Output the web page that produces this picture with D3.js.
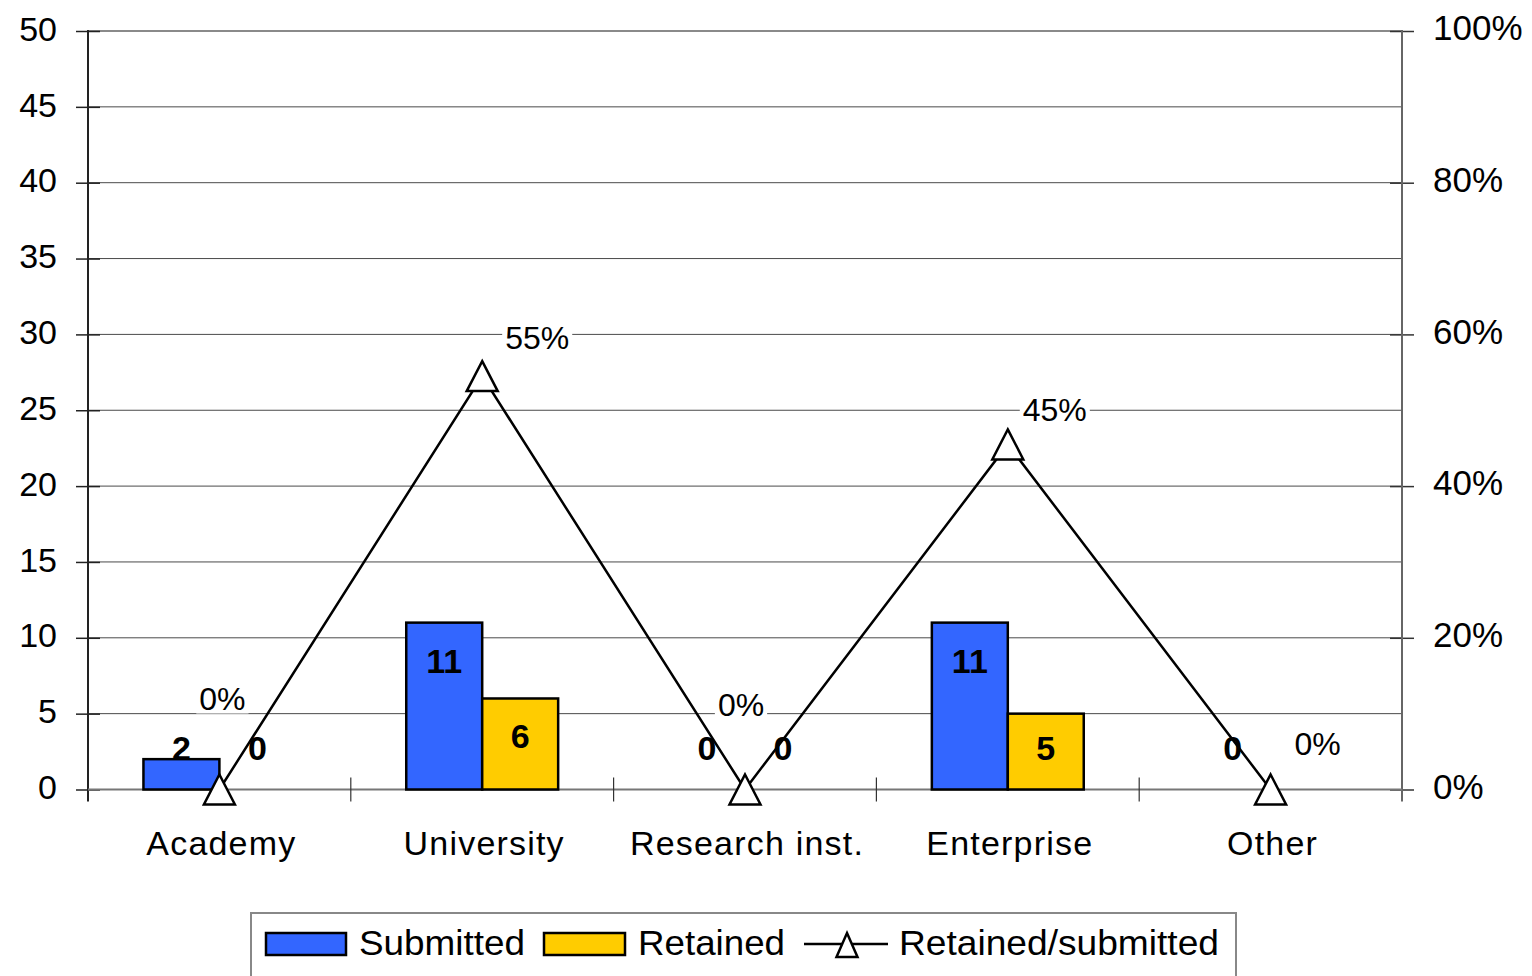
<!DOCTYPE html>
<html>
<head>
<meta charset="utf-8">
<script src="https://cdn.jsdelivr.net/npm/d3@7/dist/d3.min.js"></script>
<style>
  html, body { margin: 0; padding: 0; background: #fff; }
  svg { display: block; font-family: "Liberation Sans", Arial, sans-serif; }
</style>
</head>
<body>
<svg id="chart" width="1532" height="976"></svg>
<script>
// ---- data ----
const categories = ["Academy", "University", "Research inst.", "Enterprise", "Other"];
const submitted = [2, 11, 0, 11, 0];
const retained = [0, 6, 0, 5, 0];
const ratio = [0, 0.545, 0, 0.455, 0];
const ratioLabels = ["0%", "55%", "0%", "45%", "0%"];
const leftTicks = [0, 5, 10, 15, 20, 25, 30, 35, 40, 45, 50];
const rightTicks = [0, 0.2, 0.4, 0.6, 0.8, 1.0];
const seriesNames = ["Submitted", "Retained", "Retained/submitted"];

// ---- layout ----
const svg = d3.select("#chart");
const L = 88, R = 1402, T = 31, B = 789.5;
const colors = { Submitted: "#3366FF", Retained: "#FFCC00" };
// label nudges (x, y) relative to points for ratio labels (Excel auto placement)
const ratioLabelNudge = [[3, -80], [55, -27], [-4, -74], [47, -23], [47, -35]];
// bar labels covered by the ratio label box in the original
const coveredBarLabels = ["Other|Retained"];

const x0 = d3.scaleBand().domain(categories).range([L, R]).padding(0);
const x1 = d3.scaleBand().domain(["Submitted", "Retained"]).range([0, x0.bandwidth()]).paddingInner(0).paddingOuter(0.73);
const y = d3.scaleLinear().domain([0, 50]).range([B, T]);
const y2 = d3.scaleLinear().domain([0, 1]).range([B, T]);

// gridlines
svg.append("g").selectAll("line").data(leftTicks.filter(d => d > 0 && d < 50)).join("line")
  .attr("x1", L).attr("x2", R).attr("y1", d => y(d)).attr("y2", d => y(d))
  .attr("stroke", "#4a4a4a").attr("stroke-width", 1);
svg.append("line").attr("x1", L).attr("x2", R).attr("y1", y(50)).attr("y2", y(50))
  .attr("stroke", "#8a8a8a").attr("stroke-width", 2);

// left axis
const leftAxis = d3.axisLeft(y).tickValues(leftTicks).tickSize(12).tickPadding(19).tickSizeOuter(0);
const gL = svg.append("g").attr("transform", `translate(${L},0)`).call(leftAxis);
gL.select(".domain").remove();
gL.selectAll(".tick line").attr("x2", -12).attr("x1", 12).attr("stroke", "#222").attr("stroke-width", 1.5);
gL.selectAll(".tick text").attr("font-size", 34).attr("fill", "#000")
  .attr("font-family", "Liberation Sans, Arial, sans-serif").attr("dy", "0.27em");
svg.append("line").attr("x1", L).attr("x2", L).attr("y1", T - 1).attr("y2", B + 12)
  .attr("stroke", "#222").attr("stroke-width", 2);

// right axis
const rightAxis = d3.axisRight(y2).tickValues(rightTicks).tickSize(12).tickPadding(19)
  .tickFormat(d3.format(".0%")).tickSizeOuter(0);
const gR = svg.append("g").attr("transform", `translate(${R},0)`).call(rightAxis);
gR.select(".domain").remove();
gR.selectAll(".tick line").attr("x1", -12).attr("x2", 12).attr("stroke", "#333").attr("stroke-width", 1.5);
gR.selectAll(".tick text").attr("font-size", 35).attr("fill", "#000")
  .attr("font-family", "Liberation Sans, Arial, sans-serif").attr("dy", "0.25em");
svg.append("line").attr("x1", R).attr("x2", R).attr("y1", T - 1).attr("y2", B + 12)
  .attr("stroke", "#666").attr("stroke-width", 2);

// category axis line + ticks at boundaries
svg.append("line").attr("x1", L).attr("x2", R).attr("y1", B).attr("y2", B)
  .attr("stroke", "#777").attr("stroke-width", 2);
const bounds = categories.slice(1).map(c => x0(c));
svg.append("g").selectAll("line").data(bounds).join("line")
  .attr("x1", d => d).attr("x2", d => d).attr("y1", B - 12).attr("y2", B + 12)
  .attr("stroke", "#333").attr("stroke-width", 1.2);
svg.append("g").selectAll("text").data(categories).join("text")
  .attr("x", d => x0(d) + x0.bandwidth() / 2 + 2).attr("y", 855)
  .attr("text-anchor", "middle").attr("font-size", 34).attr("letter-spacing", "1.2px")
  .text(d => d);

// bars
const barData = [];
categories.forEach((c, i) => {
  barData.push({ cat: c, key: "Submitted", v: submitted[i] });
  barData.push({ cat: c, key: "Retained", v: retained[i] });
});
svg.append("g").selectAll("rect").data(barData.filter(d => d.v > 0)).join("rect")
  .attr("x", d => x0(d.cat) + x1(d.key))
  .attr("y", d => y(d.v))
  .attr("width", x1.bandwidth())
  .attr("height", d => y(0) - y(d.v))
  .attr("fill", d => colors[d.key]).attr("stroke", "#000").attr("stroke-width", 2.5);

// line
const pts = categories.map((c, i) => ({ c, i, x: x0(c) + x0.bandwidth() / 2, y: y2(ratio[i]) }));
svg.append("path").datum(pts)
  .attr("d", d3.line().x(d => d.x).y(d => d.y))
  .attr("fill", "none").attr("stroke", "#000").attr("stroke-width", 2.5);

// bar value labels
svg.append("g").selectAll("text")
  .data(barData.filter(d => !coveredBarLabels.includes(d.cat + "|" + d.key))).join("text")
  .attr("x", d => x0(d.cat) + x1(d.key) + x1.bandwidth() / 2)
  .attr("y", d => Math.min(y(d.v) + 50, y(0) - 30))
  .attr("text-anchor", "middle").attr("font-size", 34).attr("font-weight", "bold")
  .text(d => d.v);

// markers (open triangles)
const triPath = (w, h) => `M0,${-h / 2}L${w / 2},${h / 2}L${-w / 2},${h / 2}Z`;
svg.append("g").selectAll("path").data(pts).join("path")
  .attr("transform", d => `translate(${d.x},${d.y})`)
  .attr("d", triPath(31, 30)).attr("fill", "#fff").attr("stroke", "#000").attr("stroke-width", 2.5)
  .attr("stroke-linejoin", "miter");

// ratio labels with white background
const lg = svg.append("g");
pts.forEach((p, i) => {
  const g = lg.append("g");
  const t = g.append("text")
    .attr("x", p.x + ratioLabelNudge[i][0]).attr("y", p.y + ratioLabelNudge[i][1])
    .attr("text-anchor", "middle").attr("font-size", 32).text(ratioLabels[i]);
  const bb = t.node().getBBox();
  g.insert("rect", "text").attr("x", bb.x - 3).attr("y", bb.y + 3).attr("width", bb.width + 6)
    .attr("height", bb.height - 6).attr("fill", "#fff");
});

// legend
const leg = svg.append("g");
leg.append("rect").attr("x", 251).attr("y", 913).attr("width", 985).attr("height", 80)
  .attr("fill", "#fff").attr("stroke", "#888").attr("stroke-width", 2);
leg.append("rect").attr("x", 266).attr("y", 933).attr("width", 80).attr("height", 22)
  .attr("fill", colors.Submitted).attr("stroke", "#000").attr("stroke-width", 2.5);
leg.append("text").attr("x", 359).attr("y", 955).attr("font-size", 35)
  .attr("textLength", 166).attr("lengthAdjust", "spacingAndGlyphs").text(seriesNames[0]);
leg.append("rect").attr("x", 544).attr("y", 933).attr("width", 81).attr("height", 22)
  .attr("fill", colors.Retained).attr("stroke", "#000").attr("stroke-width", 2.5);
leg.append("text").attr("x", 638).attr("y", 955).attr("font-size", 35)
  .attr("textLength", 147).attr("lengthAdjust", "spacingAndGlyphs").text(seriesNames[1]);
leg.append("line").attr("x1", 804).attr("x2", 888).attr("y1", 944).attr("y2", 944)
  .attr("stroke", "#000").attr("stroke-width", 2.5);
leg.append("path").attr("transform", "translate(847,945)")
  .attr("d", triPath(21, 24))
  .attr("fill", "#fff").attr("stroke", "#000").attr("stroke-width", 2.5);
leg.append("text").attr("x", 899).attr("y", 955).attr("font-size", 35)
  .attr("textLength", 320).attr("lengthAdjust", "spacingAndGlyphs").text(seriesNames[2]);
</script>
</body>
</html>
